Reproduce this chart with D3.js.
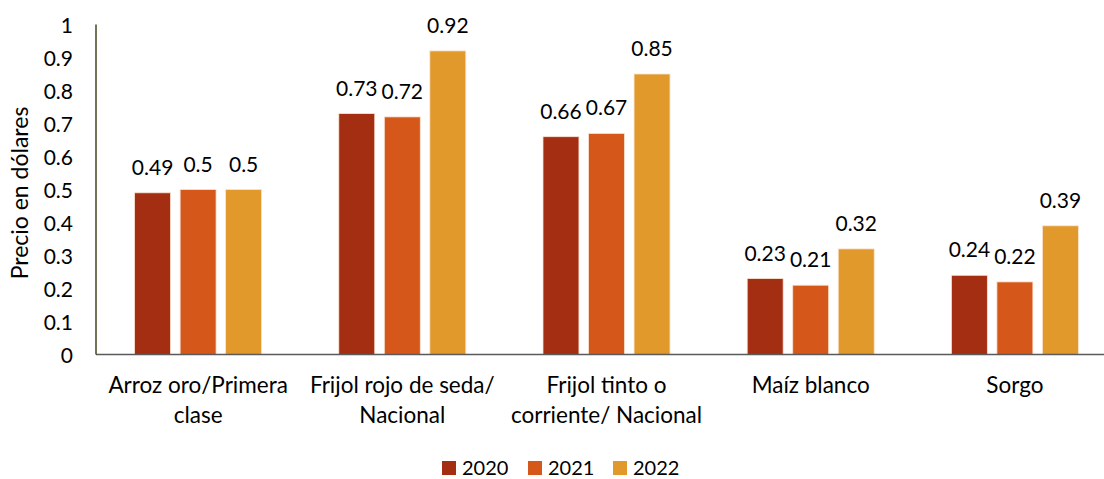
<!DOCTYPE html>
<html>
<head>
<meta charset="utf-8">
<script src="https://cdn.jsdelivr.net/npm/d3@7"></script>
<style>
body { margin: 0; background: #fff; }
text { font-family: Lato, "Open Sans", sans-serif; fill: #000; }
</style>
</head>
<body>
<div id="chart"></div>
<script>
// data
var categories = [
    ["Arroz oro/Primera", "clase"],
    ["Frijol rojo de seda/", "Nacional"],
    ["Frijol tinto o", "corriente/ Nacional"],
    ["Maíz blanco"],
    ["Sorgo"]
];
var years = ["2020", "2021", "2022"];
var values2020 = [0.49, 0.73, 0.66, 0.23, 0.24];
var values2021 = [0.5, 0.72, 0.67, 0.21, 0.22];
var values2022 = [0.5, 0.92, 0.85, 0.32, 0.39];
var yTicks = [0, 0.1, 0.2, 0.3, 0.4, 0.5, 0.6, 0.7, 0.8, 0.9, 1];
var colors = ["#A32E12", "#D5581A", "#E2992B"];

function init(){
    var w = 1104, h = 479;
    var left = 96, right = 1117, top = 24.5, bottom = 354.5;
    var series = [values2020, values2021, values2022];

    var svg = d3.select("#chart").append("svg")
                .attr("width", w)
                .attr("height", h);

    var x0 = d3.scaleBand()
                .domain(d3.range(categories.length))
                .range([left, right])
                .paddingInner(0.378)
                .paddingOuter(0.189);
    var x1 = d3.scaleBand()
                .domain(years)
                .range([0, x0.bandwidth()])
                .paddingInner(0.21);
    var y = d3.scaleLinear().domain([0, 1]).range([bottom, top]);

    // y tick labels, no tick marks
    svg.selectAll("text.ytick")
        .data(yTicks)
        .enter()
        .append("text")
        .attr("class", "ytick")
        .attr("x", 73)
        .attr("y", function(d){ return y(d) + 8; })
        .attr("text-anchor", "end")
        .attr("font-size", 21)
        .text(function(d){ return d3.format("~g")(d); });

    svg.append("text")
        .attr("transform", "translate(28,193) rotate(-90)")
        .attr("text-anchor", "middle")
        .attr("font-size", 23)
        .text("Precio en dólares");

    // bars
    var groups = svg.selectAll("g.grp")
        .data(categories)
        .enter()
        .append("g")
        .attr("class", "grp")
        .attr("transform", function(d, i){ return "translate(" + x0(i) + ",0)"; });

    groups.each(function(cat, i){
        var g = d3.select(this);
        var rows = years.map(function(yr, j){ return {year: yr, v: series[j][i], c: colors[j]}; });
        g.selectAll("rect")
            .data(rows)
            .enter()
            .append("rect")
            .attr("x", function(d){ return x1(d.year); })
            .attr("y", function(d){ return y(d.v); })
            .attr("width", x1.bandwidth())
            .attr("height", function(d){ return y(0) - y(d.v); })
            .attr("fill", function(d){ return d.c; })
            .attr("stroke", "#fbe3d0")
            .attr("stroke-width", 0.8);
        g.selectAll("text.val")
            .data(rows)
            .enter()
            .append("text")
            .attr("class", "val")
            .attr("x", function(d){ return x1(d.year) + x1.bandwidth() / 2; })
            .attr("y", function(d){ return y(d.v) - 18; })
            .attr("text-anchor", "middle")
            .attr("font-size", 21)
            .text(function(d){ return d3.format("~g")(d.v); });
    });

    // axis lines
    svg.append("line")
        .attr("x1", left).attr("x2", w)
        .attr("y1", y(0)).attr("y2", y(0))
        .attr("stroke", "#5a5a5a").attr("stroke-width", 1.3);
    svg.append("line")
        .attr("x1", left).attr("x2", left)
        .attr("y1", y(1)).attr("y2", y(0))
        .attr("stroke", "#45441c").attr("stroke-width", 1.5);

    // category labels
    var lab = svg.selectAll("text.cat")
        .data(categories)
        .enter()
        .append("text")
        .attr("class", "cat")
        .attr("text-anchor", "middle")
        .attr("font-size", 22.5)
        .attr("transform", function(d, i){ return "translate(" + (x0(i) + x0.bandwidth() / 2) + ",393)"; });
    lab.selectAll("tspan")
        .data(function(d){ return d; })
        .enter()
        .append("tspan")
        .attr("x", 0)
        .attr("y", function(d, k){ return k * 30; })
        .text(function(d){ return d; });

    // legend
    var legX = [442, 528, 613];
    var leg = svg.selectAll("g.leg")
        .data(years)
        .enter()
        .append("g")
        .attr("class", "leg")
        .attr("transform", function(d, i){ return "translate(" + legX[i] + ",461)"; });
    leg.append("rect")
        .attr("width", 14).attr("height", 14)
        .attr("fill", function(d, i){ return colors[i]; });
    leg.append("text")
        .attr("x", 20).attr("y", 14)
        .attr("font-size", 20)
        .text(function(d){ return d; });
}
window.onload = init;
</script>
</body>
</html>
